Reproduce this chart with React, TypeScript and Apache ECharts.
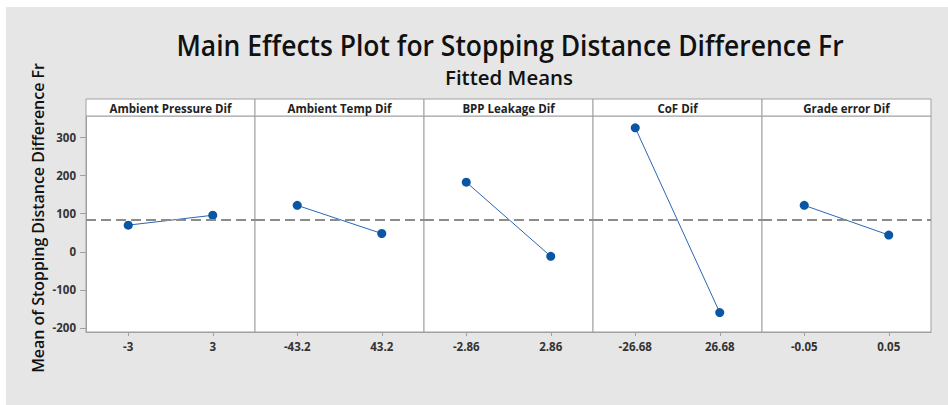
import React, { useEffect, useRef } from "react";
import * as echarts from "echarts";

const titleText = "Main Effects Plot for Stopping Distance Difference Fr";
const subtitleText = "Fitted Means";
const yAxisName = "Mean of Stopping Distance Difference Fr";
const factors = ["Ambient Pressure Dif", "Ambient Temp Dif", "BPP Leakage Dif", "CoF Dif", "Grade error Dif"];
const levels = [
  ["-3", "3"],
  ["-43.2", "43.2"],
  ["-2.86", "2.86"],
  ["-26.68", "26.68"],
  ["-0.05", "0.05"],
];
const means = [
  [70, 96],
  [122, 48],
  [183, -12],
  [326, -160],
  [122, 44],
];
const overallMean = 83.5;
const yTicks = [-200, -100, 0, 100, 200, 300];
const yMin = -211;
const yMax = 357;

const FONT = '"Open Sans", "Noto Sans", sans-serif';

function fitScale(text: string, font: string, target: number) {
  const ctx = document.createElement("canvas").getContext("2d");
  if (!ctx) return 1;
  ctx.font = font;
  const w = ctx.measureText(text).width;
  return w > 0 ? target / w : 1;
}

export default function App() {
  const ref = useRef<HTMLDivElement>(null);
  useEffect(() => {
    if (!ref.current) return;
    const chart = echarts.init(ref.current, undefined, { renderer: "svg" });
    const left0 = 86;
    const pw = 169;
    const top = 116;
    const ph = 216;
    const grids: any[] = [];
    const xAxes: any[] = [];
    const yAxes: any[] = [];
    const series: any[] = [];
    const graphics: any[] = [
      { type: "rect", shape: { x: 6, y: 7, width: 942, height: 398 }, style: { fill: "#e6e6e6" }, z: -10 },
    ];
    const titleScale = fitScale(titleText, `600 28px "Open Sans"`, 667);
    const subScale = fitScale(subtitleText, `600 20px "Open Sans"`, 128);
    const ylScale = fitScale(yAxisName, `600 17px "Open Sans"`, 310);
    graphics.push({
      type: "text", x: 510, y: 45, scaleX: titleScale,
      style: { text: titleText, fontSize: 28, fontFamily: FONT, fontWeight: 600, fill: "#111", align: "center", verticalAlign: "middle" },
    });
    graphics.push({
      type: "text", x: 509, y: 77, scaleX: subScale,
      style: { text: subtitleText, fontSize: 20, fontFamily: FONT, fontWeight: 600, fill: "#111", align: "center", verticalAlign: "middle" },
    });
    graphics.push({
      type: "text", x: 37, y: 218, rotation: Math.PI / 2, scaleX: ylScale,
      style: { text: yAxisName, fontSize: 17, fontFamily: FONT, fontWeight: 600, fill: "#111", align: "center", verticalAlign: "middle" },
    });
    factors.forEach((f, i) => {
      const left = left0 + i * pw;
      grids.push({
        left, top, width: pw, height: ph, show: true,
        backgroundColor: "#ffffff", borderColor: "#a0a0a0", borderWidth: 1,
      });
      graphics.push({
        type: "rect", shape: { x: left, y: 99, width: pw, height: 17 },
        style: { fill: "#ffffff", stroke: "#a0a0a0", lineWidth: 1 }, z: 5,
      });
      graphics.push({
        type: "text", x: left + pw / 2, y: 108, z: 6,
        style: { text: f, fontSize: 11.5, fontFamily: FONT, fontWeight: "bold", fill: "#222", align: "center", verticalAlign: "middle" },
      });
      xAxes.push({
        type: "category", gridIndex: i, data: levels[i], boundaryGap: true,
        axisLine: { show: true, onZero: false, lineStyle: { color: "#a0a0a0" } },
        axisTick: { show: true, alignWithLabel: true, length: 4, lineStyle: { color: "#a0a0a0" } },
        axisLabel: { margin: 8, fontSize: 11.5, fontFamily: FONT, fontWeight: "bold", color: "#333" },
        splitLine: { show: false },
      });
      yAxes.push({
        type: "value", gridIndex: i, min: yMin, max: yMax,
        axisLine: { show: i === 0, lineStyle: { color: "#a0a0a0" } },
        axisTick: { show: i === 0, length: 6, lineStyle: { color: "#a0a0a0" }, customValues: yTicks },
        axisLabel: { show: i === 0, margin: 10, fontSize: 11.5, fontFamily: FONT, fontWeight: "bold", color: "#333", customValues: yTicks },
        splitLine: { show: false },
      });
      series.push({
        type: "line", xAxisIndex: i, yAxisIndex: i, data: means[i],
        symbol: "circle", symbolSize: 9,
        itemStyle: { color: "#0b56a4" },
        lineStyle: { color: "#2a66b3", width: 1 },
        markLine: {
          silent: true, symbol: "none", label: { show: false },
          lineStyle: { color: "#8c8c8c", width: 2, type: [10, 5] },
          data: [{ yAxis: overallMean }],
        },
      });
    });
    chart.setOption({
      animation: false,
      backgroundColor: "#ffffff",
      grid: grids,
      xAxis: xAxes,
      yAxis: yAxes,
      series,
      graphic: graphics,
    });
    return () => chart.dispose();
  }, []);
  return <div ref={ref} style={{ position: "fixed", left: 0, top: 0, width: 948, height: 405 }} />;
}
